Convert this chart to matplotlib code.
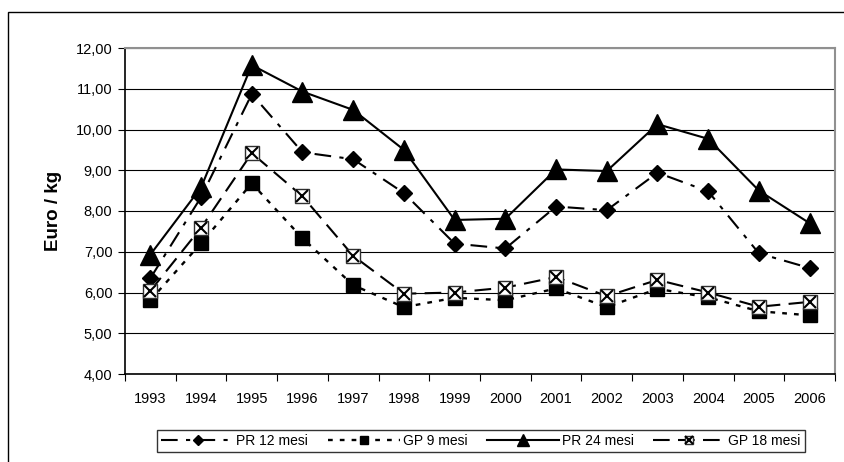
import matplotlib
matplotlib.use("Agg")
import matplotlib.pyplot as plt
from matplotlib.patches import Rectangle
from matplotlib.ticker import FuncFormatter, FixedLocator
import numpy as np

plt.rcParams['font.family'] = ['Liberation Sans', 'DejaVu Sans']

years = ['1993', '1994', '1995', '1996', '1997', '1998', '1999', '2000',
         '2001', '2002', '2003', '2004', '2005', '2006']
pr12 = [6.35, 8.34, 10.87, 9.44, 9.27, 8.44, 7.20, 7.08, 8.11, 8.02, 8.94, 8.48, 6.96, 6.60]
gp9 = [5.81, 7.21, 8.68, 7.33, 6.18, 5.64, 5.87, 5.81, 6.10, 5.64, 6.09, 5.88, 5.54, 5.44]
pr24 = [6.93, 8.58, 11.58, 10.93, 10.48, 9.50, 7.78, 7.81, 9.02, 8.98, 10.13, 9.77, 8.50, 7.70]
gp18 = [6.04, 7.59, 9.42, 8.36, 6.90, 5.97, 6.00, 6.12, 6.38, 5.91, 6.31, 6.00, 5.65, 5.77]
labels = ['PR 12 mesi', 'GP 9 mesi', 'PR 24 mesi', 'GP 18 mesi']

fig = plt.figure(figsize=(8.45, 4.62), dpi=100)
ax = fig.add_axes([125/845, 1-374/462, (835-125)/845, (374-48)/462])

x = np.arange(len(years))

h1, = ax.plot(x, pr12, color='black', lw=1.5, dashes=(8, 4, 2, 4),
              marker='D', markersize=8, markerfacecolor='black', zorder=4)
h2, = ax.plot(x, gp9, color='black', lw=1.7, dashes=(2, 3),
              marker='s', markersize=10, markerfacecolor='black', zorder=4)
h3, = ax.plot(x, pr24, color='black', lw=1.5, linestyle='-',
              marker='^', markersize=14.5, markerfacecolor='black', zorder=4)
h4, = ax.plot(x, gp18, color='black', lw=1.5, dashes=(8, 4),
              marker='s', markersize=10, markerfacecolor='white',
              markeredgecolor='#303030', markeredgewidth=1.0, zorder=5)
h4x, = ax.plot(x, gp18, linestyle='none', marker='x', markersize=9,
               markeredgecolor='black', markeredgewidth=1.5, zorder=6)

ax.set_xlim(-0.5, len(years) - 0.5)
ax.set_ylim(4, 12)
ax.set_yticks(np.arange(4, 12.01, 1))
ax.yaxis.set_major_formatter(FuncFormatter(lambda v, p: f"{v:.2f}".replace('.', ',')))
ax.set_xticks(x)
ax.set_xticklabels(years)
ax.xaxis.set_minor_locator(FixedLocator(np.arange(-0.5, len(years), 1)))
ax.tick_params(axis='x', which='major', length=0, pad=13, labelsize=10.5)
ax.tick_params(axis='x', which='minor', length=5, direction='out', width=0.8)
ax.tick_params(axis='y', length=5, direction='out', width=0.8, labelsize=10.5, pad=4)

ax.grid(axis='y', color='black', lw=0.8, zorder=0)
ax.set_axisbelow(True)
for s in ['top', 'right']:
    ax.spines[s].set_color('#909090')
    ax.spines[s].set_linewidth(1.5)
for s in ['left', 'bottom']:
    ax.spines[s].set_color('black')
    ax.spines[s].set_linewidth(1.2)

ax.set_ylabel('Euro / kg', fontsize=13.5, fontweight='bold', labelpad=10)

fig.patches.append(Rectangle((8/845, -0.2), 1.2, 1.2 - 12/462,
                             transform=fig.transFigure, fill=False,
                             edgecolor='black', lw=1.0))

leg = fig.legend([h1, h2, h3, (h4, h4x)], labels, loc='center',
                 bbox_to_anchor=(481/845, 1-441/462), ncol=4, fontsize=10,
                 frameon=True, fancybox=False, edgecolor='black',
                 handlelength=5.2, columnspacing=1.4, handletextpad=0.2,
                 borderpad=0.3, markerscale=0.6)
leg.get_frame().set_linewidth(1.0)

fig.savefig('out.png', dpi=100)
